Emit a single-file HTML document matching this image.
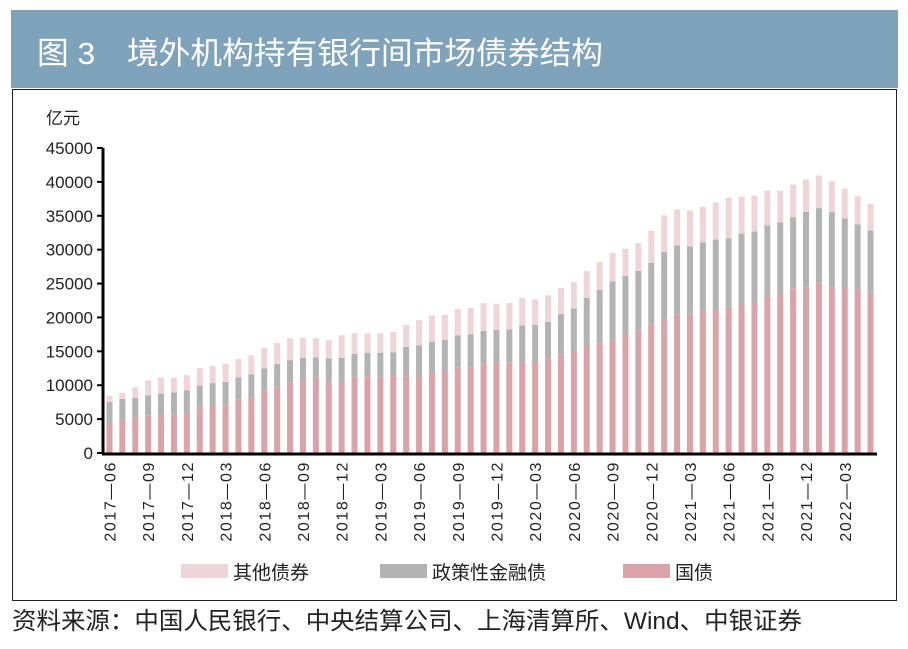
<!DOCTYPE html>
<html><head><meta charset="utf-8"><style>
body{margin:0;width:908px;height:644px;background:#fff;overflow:hidden;font-family:"Liberation Sans","Noto Sans CJK SC",sans-serif;}
</style></head><body>
<svg width="908" height="644" xmlns="http://www.w3.org/2000/svg">
<rect x="11" y="10" width="887" height="78" fill="#7fa3bb"/>
<text x="37" y="64" fill="#fff" font-size="31" font-family="Liberation Sans,Noto Sans CJK SC,sans-serif" textLength="566" lengthAdjust="spacingAndGlyphs">图 3　境外机构持有银行间市场债券结构</text>
<rect x="12.5" y="89.5" width="884" height="511" fill="none" stroke="#222" stroke-width="1"/>
<text x="46" y="124" font-size="17" fill="#222">亿元</text>
<g id="yaxis"></g>
<g id="bars"></g>
<g id="xaxis"></g>
<g>
<g><rect x="181" y="564" width="47" height="14" fill="#efd5d7"/><text x="233" y="579" font-size="19" fill="#222">其他债券</text></g>
<g><rect x="380" y="564" width="47" height="14" fill="#b3b3b3"/><text x="432" y="579" font-size="19" fill="#222">政策性金融债</text></g>
<g><rect x="623" y="564" width="47" height="14" fill="#d9a3a8"/><text x="675" y="579" font-size="19" fill="#222">国债</text></g>
</g>
<text x="12" y="629" font-size="24" fill="#222" textLength="790" lengthAdjust="spacingAndGlyphs">资料来源：中国人民银行、中央结算公司、上海清算所、Wind、中银证券</text>
</svg>
<script>
const months=[];
for(let i=0;i<60;i++){const m=(5+i)%12+1,y=2017+Math.floor((5+i)/12);months.push(y+'-'+String(m).padStart(2,'0'));}
const treasury=[4500,5000,5300,5590,5690,5640,5890,6880,7080,7130,7920,8220,9210,9700,10440,10690,11190,10440,10540,11240,11340,11240,11340,11340,11290,11930,12080,12570,12670,13220,13410,13410,13410,13410,13910,14550,14900,15790,16190,16780,17470,18170,18910,19750,20490,20390,20890,20990,21580,21830,22130,23070,23460,24300,24450,25200,24450,24350,24060,23710];
const policy=[3020,2970,2820,2920,3070,3320,3370,3070,3220,3360,3220,3410,3260,3420,3270,3370,2920,3520,3520,3410,3460,3560,3510,4300,4600,4500,4600,4800,4850,4800,4760,4810,5400,5500,5440,5940,6430,7080,7870,8560,8670,8710,9160,9900,10150,10100,10200,10490,10100,10540,10540,10490,10550,10500,11140,10930,11090,10250,9650,9110];
const other=[940,890,1580,2190,2380,2130,2220,2570,2520,2680,2720,2770,3020,3120,3220,2920,2820,2670,3310,3020,2870,2870,3020,3270,3710,3870,3720,3870,3910,4110,3860,3910,4060,3760,3920,3860,3870,3960,4160,4210,4010,4110,4700,5400,5300,5300,5240,5500,5990,5450,5300,5150,4700,4800,4750,4810,4560,4410,4160,3960];
const yTicks=[0,5000,10000,15000,20000,25000,30000,35000,40000,45000];
const NS='http://www.w3.org/2000/svg';
const X0=103,X1=877,Y0=453,YT=148,YMAX=45000;
const step=(X1-X0)/months.length,bw=6;
const ys=v=>Y0-(v/YMAX)*(Y0-YT);
const xc=i=>X0+step*(i+0.5);
function mk(tag,attrs,parent){const e=document.createElementNS(NS,tag);for(const k in attrs)e.setAttribute(k,attrs[k]);parent.appendChild(e);return e;}
const yg=document.getElementById('yaxis');
const yl=mk('line',{x1:X0,x2:X0,y1:YT,y2:Y0,stroke:'#000','stroke-width':3},yg);


yTicks.forEach(t=>{
 const tk=mk('line',{x1:X0-6,x2:X0,y1:ys(t),y2:ys(t),stroke:'#000','stroke-width':2},yg);
 
 
 const tx=mk('text',{x:X0-10,y:ys(t)+6,'text-anchor':'end','font-size':17,fill:'#222'},yg);
 tx.textContent=t;
 
 
});
const bg=document.getElementById('bars');
months.forEach((m,i)=>{
 const x=xc(i)-bw/2;
 const a=treasury[i],b=a+policy[i],c=b+other[i];
 const r1=mk('rect',{x:x,width:bw,y:ys(a),height:Y0-ys(a),fill:'#d9a3a8'},bg);
 
 
 const r2=mk('rect',{x:x,width:bw,y:ys(b),height:ys(a)-ys(b),fill:'#b3b3b3'},bg);
 
 
 const r3=mk('rect',{x:x,width:bw,y:ys(c),height:ys(b)-ys(c),fill:'#efd5d7'},bg);
 
 
});
const xg=document.getElementById('xaxis');
const xl=mk('line',{x1:X0-1,x2:X1,y1:Y0+1,y2:Y0+1,stroke:'#000','stroke-width':3},xg);


months.forEach((m,i)=>{
 if(i%3!==0)return;
 const x=xc(i)+6,y=Y0+8;
 const t=mk('text',{x:0,y:0,transform:`translate(${x},${y}) rotate(-90)`,'text-anchor':'end','font-size':16,fill:'#222','letter-spacing':'1.6'},xg);
 t.textContent=m.replace('-','—');
 
 
});
</script>
</body></html>
